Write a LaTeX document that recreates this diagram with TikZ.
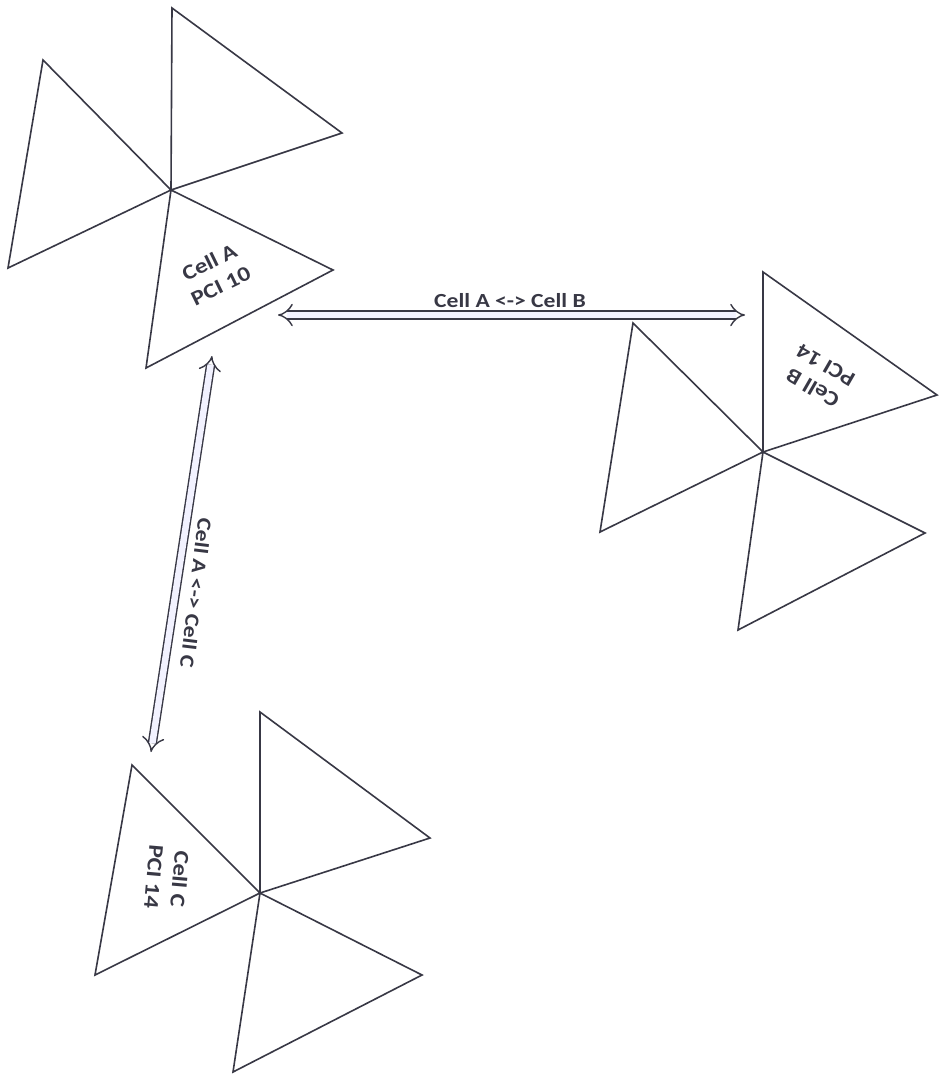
\documentclass[tikz,border=0pt]{standalone}
\usepackage{fontspec}
\setmainfont{Carlito}
\newfontfamily\scanfont[FakeStretch=1.18]{Carlito}
\usetikzlibrary{arrows.meta,positioning}
\definecolor{inkgray}{rgb}{0.22,0.22,0.27}

\begin{document}
\begin{tikzpicture}[
    x=1pt, y=-1pt,
    sector/.style={draw=inkgray, line width=1.6pt, line join=miter},
    link/.style={draw=inkgray, line width=1.4pt, double=blue!5, double distance=6.5pt, {Implies}-{Implies}},
    celltxt/.style={text=inkgray, font=\scanfont\bfseries\fontsize{21}{26}\selectfont, align=center, inner sep=1pt},
    linktxt/.style={text=inkgray, font=\scanfont\bfseries\fontsize{20}{24}\selectfont, inner sep=1pt}
  ]
    \useasboundingbox[fill=white] (0,0) rectangle (952,1088);

    % site centres
    \coordinate (siteA) at (171,190);
    \coordinate (siteB) at (763,452);
    \coordinate (siteC) at (260,893);

    % site A
    \draw[sector] (siteA) -- (172,8) -- (342,133) -- cycle;
    \draw[sector] (siteA) -- (43,60) -- (8,268) -- cycle;
    \draw[sector] (siteA) -- (333,270) -- (146,368) -- cycle;
    \node[celltxt, rotate=26] (cellA) at (215,274) {Cell A\\PCI 10};

    % site B
    \draw[sector] (siteB) -- (763,272) -- (937,395) -- cycle;
    \draw[sector] (siteB) -- (633,323) -- (600,532) -- cycle;
    \draw[sector] (siteB) -- (925,533) -- (738,630) -- cycle;
    \node[celltxt, rotate=150] (cellB) at (819,377) {Cell B\\PCI 14};

    % site C
    \draw[sector] (siteC) -- (260,712) -- (430,838) -- cycle;
    \draw[sector] (siteC) -- (132,765) -- (95,975) -- cycle;
    \draw[sector] (siteC) -- (422,975) -- (233,1072) -- cycle;
    \node[celltxt, rotate=-95] (cellC) at (167,878) {Cell C\\PCI 14};

    % neighbour relations
    \coordinate (abL) at (278,315);
    \coordinate (abR) at (745,315);
    \coordinate (acT) at (212,356);
    \coordinate (acB) at (151,752);
    \draw[link] (abL) -- (abR);
    \draw[link] (acT) -- (acB);
    \node[linktxt] (labAB) at (510,301) {Cell A <-> Cell B};
    \node[linktxt, rotate=-97] (labAC) at (196,593) {Cell A <-> Cell C};
  \end{tikzpicture}
\end{document}
